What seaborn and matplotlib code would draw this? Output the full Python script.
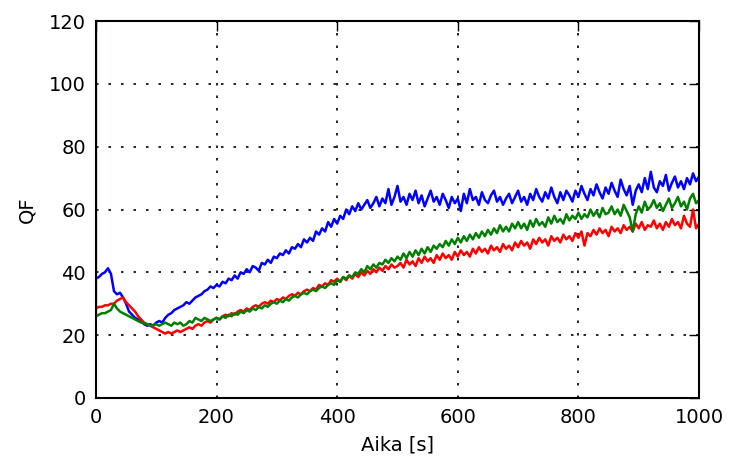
import numpy as np
import pandas as pd
import seaborn as sns
import matplotlib
matplotlib.use("Agg")
import matplotlib.pyplot as plt

blue_qf = [
    38, 38.5, 39.5, 40, 41.3, 39.5, 34, 33, 33.5, 32, 30, 27.5, 26.5, 25.5, 25, 24.5, 23.5, 23, 23.5, 23,
    24, 24.5, 24, 25.5, 26.5, 27, 28, 28.5, 29, 29.5, 30.5, 30, 31, 32, 32.5, 33, 34, 34.5, 35.5, 35,
    36, 35.5, 37, 36.5, 38, 37.5, 39, 38, 40, 39.5, 41, 40, 42, 41.5, 40.5, 43, 42.5, 44, 43, 45,
    44.5, 46, 45.5, 47, 46, 48, 47.5, 49, 48, 50.5, 49.5, 51, 50, 53, 52, 54, 53, 56, 54.5, 57,
    55.5, 58, 57, 60, 58.5, 61, 59.5, 62, 60, 61.5, 63, 60.5, 62, 64, 61, 63.5, 62, 66.5, 61.5, 64,
    67.5, 62.5, 64, 61.5, 65, 63, 66, 62, 64.5, 61, 63.5, 66, 62.5, 64, 61.5, 65, 63, 60.5, 64, 62,
    63.5, 59.5, 65, 62, 66.5, 63, 64, 61.5, 65.5, 63, 62, 64.5, 66, 62.5, 64, 61.5, 63.5, 65, 62, 64,
    66, 62.5, 64, 61.5, 65, 63, 66.5, 64, 62.5, 65.5, 63.5, 67, 64, 62, 65.5, 63, 66, 64.5, 62.5, 66,
    64, 67.5, 65, 63, 66.5, 64.5, 68, 65.5, 63.5, 67, 65, 68.5, 66, 64, 69.5, 66.5, 64.5, 67.5, 61.5, 66,
    68, 65.5, 70, 66.5, 72, 67, 65.5, 69, 67.5, 71, 66, 68.5, 70.5, 67, 69, 66.5, 70, 68, 71.5, 69,
    70.5,
]
red_qf = [
    28.5, 29, 29, 29.5, 29.5, 30, 30, 31, 31.5, 32, 30.5, 29.5, 28.5, 27.5, 26, 25, 24, 23.5, 23, 22.5,
    22, 21.5, 21, 20.5, 21, 20.5, 21, 21.5, 21, 21.5, 22, 22.5, 22, 23, 23.5, 23, 24, 24.5, 24, 25,
    25.5, 25, 26, 26.5, 26, 27, 26.5, 27.5, 28, 27.5, 28.5, 28, 29, 29.5, 29, 30, 30.5, 30, 31, 30.5,
    31.5, 31, 32, 31.5, 32.5, 33, 32.5, 33.5, 33, 34, 34.5, 34, 35, 34.5, 36, 35.5, 36.5, 36, 37.5, 37,
    38, 37, 38.5, 37.5, 39, 38, 39.5, 38.5, 40, 39, 40.5, 39.5, 41, 40, 41.5, 40.5, 42, 41, 42.5, 41.5,
    42, 43, 41.5, 44, 42.5, 43.5, 42, 44.5, 43, 45, 43.5, 44.5, 43, 45.5, 44, 46, 44.5, 45.5, 44, 46.5,
    45, 47, 45.5, 46.5, 45, 47.5, 46, 48, 46.5, 47.5, 46, 48.5, 47, 48, 46.5, 49, 47.5, 48.5, 47, 49.5,
    48, 50, 48.5, 49.5, 47.5, 50.5, 49, 51, 49.5, 50.5, 48.5, 51.5, 50, 51, 49.5, 52, 50.5, 51.5, 50, 52.5,
    51, 53, 48.5, 52.5, 51.5, 53.5, 52, 54, 52.5, 53.5, 51.5, 54.5, 53, 54, 52.5, 55, 53.5, 54.5, 53, 55.5,
    54, 56, 53.5, 55, 54.5, 56.5, 54, 55.5, 53.5, 56, 54.5, 57, 55, 56, 54, 58, 55.5, 54.5, 60, 54,
    55.5,
]
green_start_qf = 125  # first sample, far above the axis
green_qf = [
    26, 26.5, 27, 27, 27.5, 28, 30, 28.5, 27.5, 27, 26.5, 26, 25.5, 25, 24.5, 24, 23.8, 23.5, 23, 23.2,
    23.5, 23, 23.5, 24, 23.5, 23, 24, 23.5, 24, 23, 23.5, 24.5, 24, 25.5, 25, 24.5, 25.5, 25, 24.5, 25,
    25.5, 25, 26, 25.5, 26.5, 26, 27, 26.5, 27.5, 27, 28, 27.5, 28.5, 28, 29, 28.5, 29.5, 29, 30, 30.5,
    30, 31, 30.5, 31.5, 31, 32, 32.5, 32, 33, 33.5, 33, 34, 34.5, 34, 35, 35.5, 35, 36, 36.5, 36,
    37.5, 37, 38.5, 38, 39, 38.5, 40, 39.5, 41, 40, 42, 41, 42.5, 41.5, 43, 42.5, 44, 43, 44.5, 43.5,
    45, 44, 46, 44.5, 46.5, 45, 47, 45.5, 47.5, 46, 48, 46.5, 48.5, 47.5, 49, 48, 50, 48.5, 50.5, 49,
    51, 49.5, 51.5, 50, 52, 50.5, 52.5, 51, 53, 51.5, 53.5, 52, 54, 52.5, 55, 53, 54.5, 53, 55.5, 54,
    56, 54, 55.5, 53.5, 56.5, 54.5, 57, 55, 56, 54.5, 57.5, 55.5, 58, 56, 57, 55.5, 58.5, 56.5, 58, 57,
    59, 57, 58.5, 57.5, 60, 58, 59.5, 57.5, 60.5, 58.5, 59, 61, 58.5, 60, 58, 61.5, 59.5, 57.5, 53, 58.5,
    61, 59, 62.5, 60, 61, 63, 60.5, 62, 59.5, 61.5, 63.5, 60.5, 62, 64, 61, 62.5, 60, 63.5, 65, 62,
    63,
]
x_ticks = [0, 200, 400, 600, 800, 1000]
y_ticks = [0, 20, 40, 60, 80, 100, 120]

sns.set_style("white")
plt.rcParams['font.family'] = ['DejaVu Sans']
plt.rcParams['text.color'] = 'black'
plt.rcParams['axes.labelcolor'] = 'black'
plt.rcParams['xtick.color'] = 'black'
plt.rcParams['ytick.color'] = 'black'

fig = plt.figure(figsize=(7.32, 4.61), dpi=100)
ax = fig.add_axes([0.131, 0.1367, 0.824, 0.8177])

blue_t = np.arange(len(blue_qf)) * 5
red_t = np.arange(len(red_qf)) * 5
green_t = np.concatenate([[0], np.arange(len(green_qf)) * 5])
green_all = [green_start_qf] + green_qf

for t, vals, col in [(blue_t, blue_qf, (0, 0, 1)),
                     (red_t, red_qf, (1, 0, 0)),
                     (green_t, green_all, (0, 0.5, 0))]:
    df = pd.DataFrame({'t': t, 'qf': vals})
    sns.lineplot(data=df, x='t', y='qf', color=col, linewidth=1.8,
                 estimator=None, sort=False, ax=ax)

ax.set_xlim(0, 1000)
ax.set_ylim(0, 120)
ax.set_xticks(x_ticks)
ax.set_yticks(y_ticks)
ax.set_xlabel('Aika [s]', fontsize=14, labelpad=6)
ax.set_ylabel('QF', fontsize=14, labelpad=9)
ax.tick_params(direction='in', length=7, width=1, labelsize=14,
               top=True, right=True, pad=7)
ax.grid(True, color='black', linestyle=(0, (1.5, 6)), linewidth=1.2)
for s in ax.spines.values():
    s.set_color('black')
    s.set_linewidth(1.5)

fig.savefig('out.png', dpi=100)
